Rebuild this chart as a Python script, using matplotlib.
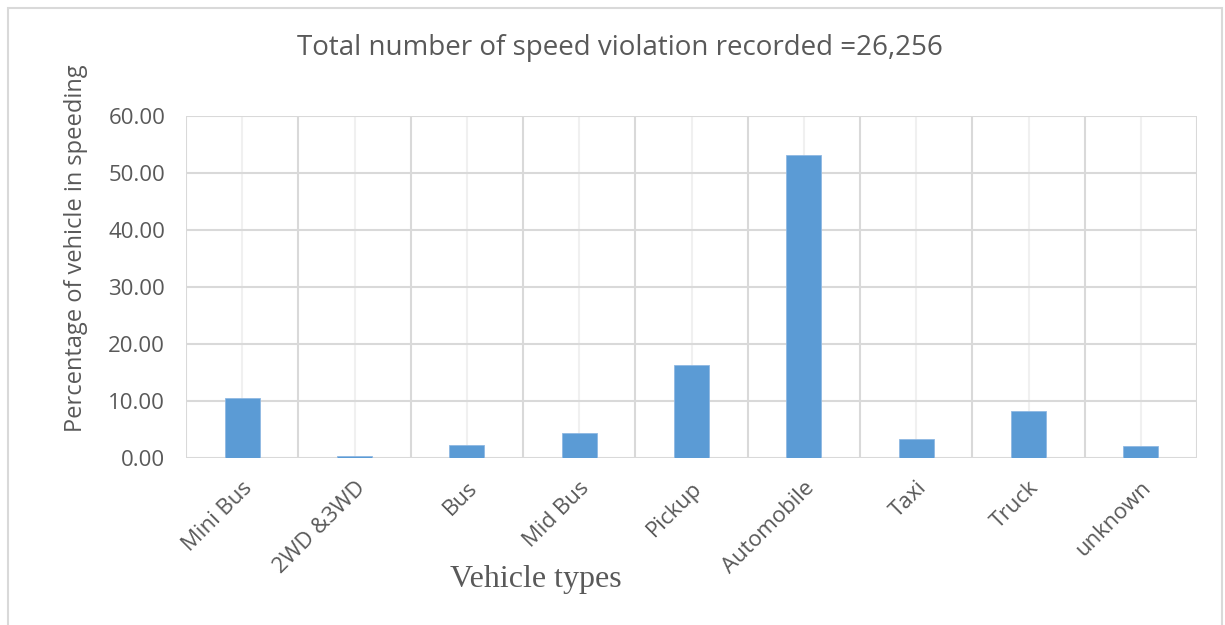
from matplotlib import pyplot as plt
from matplotlib.patches import Rectangle
import numpy as np

vehicle_types = ['Mini Bus', '2WD &3WD', 'Bus', 'Mid Bus', 'Pickup',
                 'Automobile', 'Taxi', 'Truck', 'unknown']
percent_speeding = [10.5, 0.35, 2.2, 4.4, 16.3, 53.2, 3.3, 8.2, 2.05]
yticks = [0, 10, 20, 30, 40, 50, 60]

text_col = '#595959'
grid_col = '#d9d9d9'
bar_col = '#5b9bd5'


def main():
    fig = plt.figure(figsize=(12.25, 6.25), dpi=100)
    ax = fig.add_axes([186 / 1225, 1 - 458 / 625, (1197 - 186) / 1225, (458 - 116) / 625])

    # outer chart frame
    fig.patches.append(Rectangle((8 / 1225, -0.1), (1222 - 8) / 1225, 1.1 - 8 / 625,
                                 transform=fig.transFigure, fill=False,
                                 edgecolor=grid_col, linewidth=1.5))

    x = np.arange(len(vehicle_types))
    ax.bar(x, percent_speeding, width=0.31, color=bar_col, zorder=3,
           edgecolor='#8fb8e3', linewidth=0.6)

    ax.set_xlim(-0.5, len(vehicle_types) - 0.5)
    ax.set_ylim(0, 60)
    ax.set_yticks(yticks)
    ax.set_yticklabels(['{0:.2f}'.format(v) for v in yticks])

    # category boundaries and centre lines
    for b in np.arange(-0.5, len(vehicle_types), 1.0):
        ax.axvline(b, color=grid_col, linewidth=1.5, zorder=1)
    for c in x:
        ax.axvline(c, color='#f0f0f0', linewidth=1.5, zorder=1)
    for y in yticks:
        ax.axhline(y, color=grid_col, linewidth=1.5, zorder=1)

    ax.set_xticks(x)
    ax.set_xticklabels(vehicle_types, rotation=45, ha='right', rotation_mode='anchor',
                       fontsize=16, family='Open Sans', color=text_col)
    for lab in ax.get_yticklabels():
        lab.set_family('Open Sans')
        lab.set_fontsize(16)
        lab.set_color(text_col)
    ax.tick_params(axis='y', length=0, pad=15)
    ax.tick_params(axis='x', length=0, pad=14)
    for s in ax.spines.values():
        s.set_visible(False)

    fig.text(620 / 1225, 1 - 48 / 625, 'Total number of speed violation recorded =26,256',
             ha='center', va='center', fontsize=20, family='Open Sans', color=text_col)
    fig.text(536 / 1225, 1 - 580 / 625, 'Vehicle types', ha='center', va='center',
             fontsize=23, family='Liberation Serif', color=text_col)
    fig.text(76 / 1225, 1 - 248 / 625, 'Percentage of vehicle in speeding', rotation=90,
             ha='center', va='center', fontsize=17, family='Open Sans', color=text_col)

    fig.savefig('out.png', dpi=100)


if __name__ == '__main__':
    main()
